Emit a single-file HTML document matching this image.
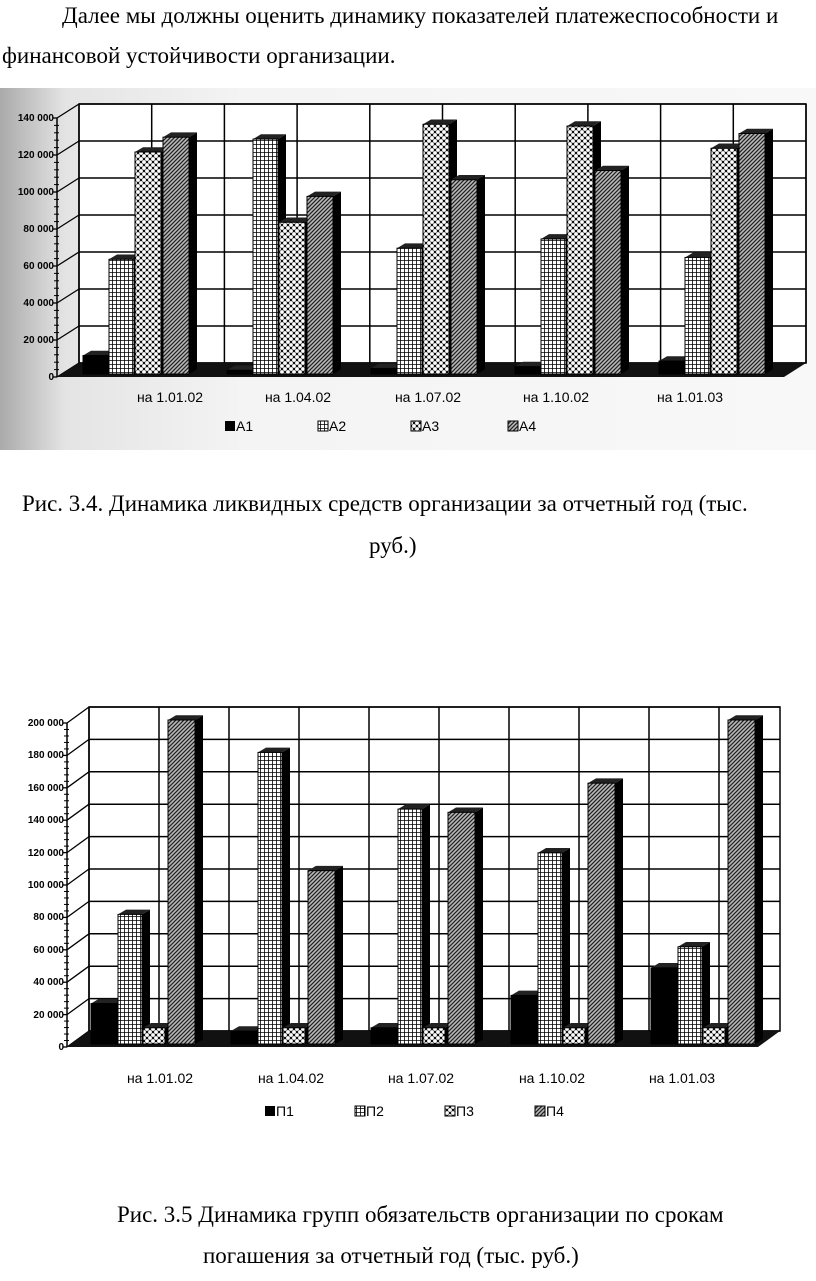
<!DOCTYPE html>
<html><head><meta charset="utf-8">
<style>
body{margin:0;background:#fff;width:816px;height:1281px;overflow:hidden;position:relative;font-family:"Liberation Serif",serif;}
.t{position:absolute;font-size:23px;color:#000;white-space:nowrap;line-height:26px;}
svg{position:absolute;left:0;}
</style></head><body>
<div class="t" style="left:62px;top:3px">Далее мы должны оценить динамику показателей платежеспособности и</div>
<div class="t" style="left:2px;top:43px">финансовой устойчивости организации.</div>
<div class="t" style="left:22px;top:491px">Рис. 3.4. Динамика ликвидных средств организации за отчетный год (тыс.</div>
<div class="t" style="left:369px;top:533px">руб.)</div>
<div class="t" style="left:117px;top:1202px">Рис. 3.5 Динамика групп обязательств организации по срокам</div>
<div class="t" style="left:203px;top:1243px">погашения за отчетный год (тыс. руб.)</div>

<svg id="s1" width="816" height="1281" viewBox="0 0 816 1281" style="top:0">
<defs>
<pattern id="grid" width="4" height="4" patternUnits="userSpaceOnUse"><rect width="4" height="4" fill="#fff"/><path d="M0 0H4M0 0V4" stroke="#000" stroke-width="1.6"/></pattern>
<pattern id="chk" width="6" height="6" patternUnits="userSpaceOnUse"><rect width="6" height="6" fill="#111"/><circle cx="3" cy="3" r="1.9" fill="#fff"/><circle cx="0" cy="0" r="1.9" fill="#fff"/><circle cx="6" cy="0" r="1.9" fill="#fff"/><circle cx="0" cy="6" r="1.9" fill="#fff"/><circle cx="6" cy="6" r="1.9" fill="#fff"/></pattern>
<pattern id="hat" width="4" height="4" patternUnits="userSpaceOnUse"><rect width="4" height="4" fill="#bbb"/><path d="M0 4L4 0M-1 1L1 -1M3 5L5 3" stroke="#222" stroke-width="1.3"/></pattern>
<linearGradient id="scan" x1="0" x2="1"><stop offset="0" stop-color="#aaa"/><stop offset="0.08" stop-color="#e4e4e4"/><stop offset="0.3" stop-color="#f4f4f4"/><stop offset="1" stop-color="#f8f8f8"/></linearGradient>
</defs>
<rect x="0" y="88" width="816" height="362" fill="url(#scan)"/>
<g id="c1"></g>
<g font-family="Liberation Sans, sans-serif" font-size="10" font-weight="bold" text-anchor="end">
<text x="54" y="121">140 000</text><text x="54" y="158">120 000</text><text x="54" y="195">100 000</text><text x="54" y="232">80 000</text><text x="54" y="269">60 000</text><text x="54" y="306">40 000</text><text x="54" y="343">20 000</text><text x="54" y="380">0</text>
</g>
<g font-family="Liberation Sans, sans-serif" font-size="14" text-anchor="middle">
<text x="170" y="402">на 1.01.02</text><text x="298" y="402">на 1.04.02</text><text x="428" y="402">на 1.07.02</text><text x="556" y="402">на 1.10.02</text><text x="690" y="402">на 1.01.03</text>
</g>
<g font-family="Liberation Sans, sans-serif" font-size="14">
<rect x="225" y="421" width="10" height="10" fill="#000"/><text x="236" y="431">А1</text>
<rect x="318" y="421" width="10" height="10" fill="url(#grid)" stroke="#000"/><text x="329" y="431">А2</text>
<rect x="411" y="421" width="10" height="10" fill="url(#chk)" stroke="#000"/><text x="422" y="431">А3</text>
<rect x="508" y="421" width="10" height="10" fill="url(#hat)" stroke="#000"/><text x="519" y="431">А4</text>
</g>

<g id="c2"></g>
<g font-family="Liberation Sans, sans-serif" font-size="10" font-weight="bold" text-anchor="end">
<text x="64" y="726">200 000</text><text x="64" y="758">180 000</text><text x="64" y="791">160 000</text><text x="64" y="823">140 000</text><text x="64" y="856">120 000</text><text x="64" y="888">100 000</text><text x="64" y="920">80 000</text><text x="64" y="953">60 000</text><text x="64" y="985">40 000</text><text x="64" y="1018">20 000</text><text x="64" y="1050">0</text>
</g>
<g font-family="Liberation Sans, sans-serif" font-size="14" text-anchor="middle">
<text x="160" y="1083">на 1.01.02</text><text x="291" y="1083">на 1.04.02</text><text x="421" y="1083">на 1.07.02</text><text x="552" y="1083">на 1.10.02</text><text x="682" y="1083">на 1.01.03</text>
</g>
<g font-family="Liberation Sans, sans-serif" font-size="14">
<rect x="265" y="1106" width="10" height="10" fill="#000"/><text x="276" y="1116">П1</text>
<rect x="355" y="1106" width="10" height="10" fill="url(#grid)" stroke="#000"/><text x="366" y="1116">П2</text>
<rect x="445" y="1106" width="10" height="10" fill="url(#chk)" stroke="#000"/><text x="456" y="1116">П3</text>
<rect x="535" y="1106" width="10" height="10" fill="url(#hat)" stroke="#000"/><text x="546" y="1116">П4</text>
</g>
</svg>
<script>
var NS="http://www.w3.org/2000/svg";
function el(g,t,a){var e=document.createElementNS(NS,t);for(var k in a)e.setAttribute(k,a[k]);g.appendChild(e);return e;}
function chart(gid,o){
 var g=document.getElementById(gid);
 var fx=o.fx,base=o.base,dx=o.dx,dy=o.dy,sc=o.sc,bx=fx+dx;
 el(g,'rect',{x:bx,y:base+dy-o.max*sc,width:o.right-bx,height:o.max*sc,fill:'#fff',stroke:'#000','stroke-width':1.5});
 for(var v=0;v<=o.max;v+=o.step){var y=base+dy-v*sc;
  el(g,'line',{x1:bx,y1:y,x2:o.right,y2:y,stroke:'#000','stroke-width':1.5});
  el(g,'line',{x1:fx,y1:base-v*sc,x2:bx,y2:y,stroke:'#000','stroke-width':1.3});
  el(g,'line',{x1:fx-4,y1:base-v*sc,x2:fx,y2:base-v*sc,stroke:'#000','stroke-width':1.3});
  for(var m=1;m<5&&v<o.max;m++){var yy=base-(v+o.step*m/5)*sc;el(g,'line',{x1:fx-3,y1:yy,x2:fx+2,y2:yy,stroke:'#000','stroke-width':1});}
 }
 for(var x=bx;x<=o.right+1;x+=o.vstep)el(g,'line',{x1:x,y1:base+dy-o.max*sc,x2:x,y2:base+dy,stroke:'#000','stroke-width':1.5});
 el(g,'line',{x1:fx,y1:base,x2:fx,y2:base-o.max*sc,stroke:'#000','stroke-width':1.5});
 el(g,'polygon',{points:[fx,base,o.right-dx,base,o.right,base+dy,bx,base+dy].join(' '),fill:'#111'});
 var fills=['#000','url(#grid)','url(#chk)','url(#hat)'];
 o.data.forEach(function(gr,i){var g0=o.g0+o.gstep*i;
  gr.forEach(function(val,j){var x=g0+o.off[j],w=o.w[j],h=val*sc,b=base-3,yt=b-h,d=o.d;
   el(g,'polygon',{points:[x+w,yt,x+w+d,yt-d*0.6,x+w+d,b-d*0.6,x+w,b].join(' '),fill:'#000'});
   el(g,'polygon',{points:[x,yt,x+d,yt-d*0.6,x+w+d,yt-d*0.6,x+w,yt].join(' '),fill:'#222'});
   el(g,'rect',{x:x,y:yt,width:w,height:h,fill:fills[j],stroke:'#000','stroke-width':1});
  });
 });
}
chart('c1',{fx:57,base:377,dx:22,dy:-14,sc:0.00185,max:140000,step:20000,right:806,vstep:72.7,
 g0:83,gstep:144,off:[0,26,52,80],w:[25,25,26,26],d:8,
 data:[[10000,62000,120000,128000],[2000,127000,82000,96000],[3000,68000,135000,105000],[4000,73000,134000,110000],[7000,63000,122000,130000]]});
chart('c2',{fx:67,base:1047,dx:22,dy:-16,sc:0.00162,max:200000,step:20000,right:780,vstep:70,
 g0:91,gstep:140,off:[0,27,52,77],w:[26,24,22,27],d:8,
 data:[[25000,80000,10000,200000],[8000,180000,10000,107000],[10000,145000,10000,143000],[30000,118000,10000,161000],[47000,60000,10000,200000]]});
</script>
</body></html>
